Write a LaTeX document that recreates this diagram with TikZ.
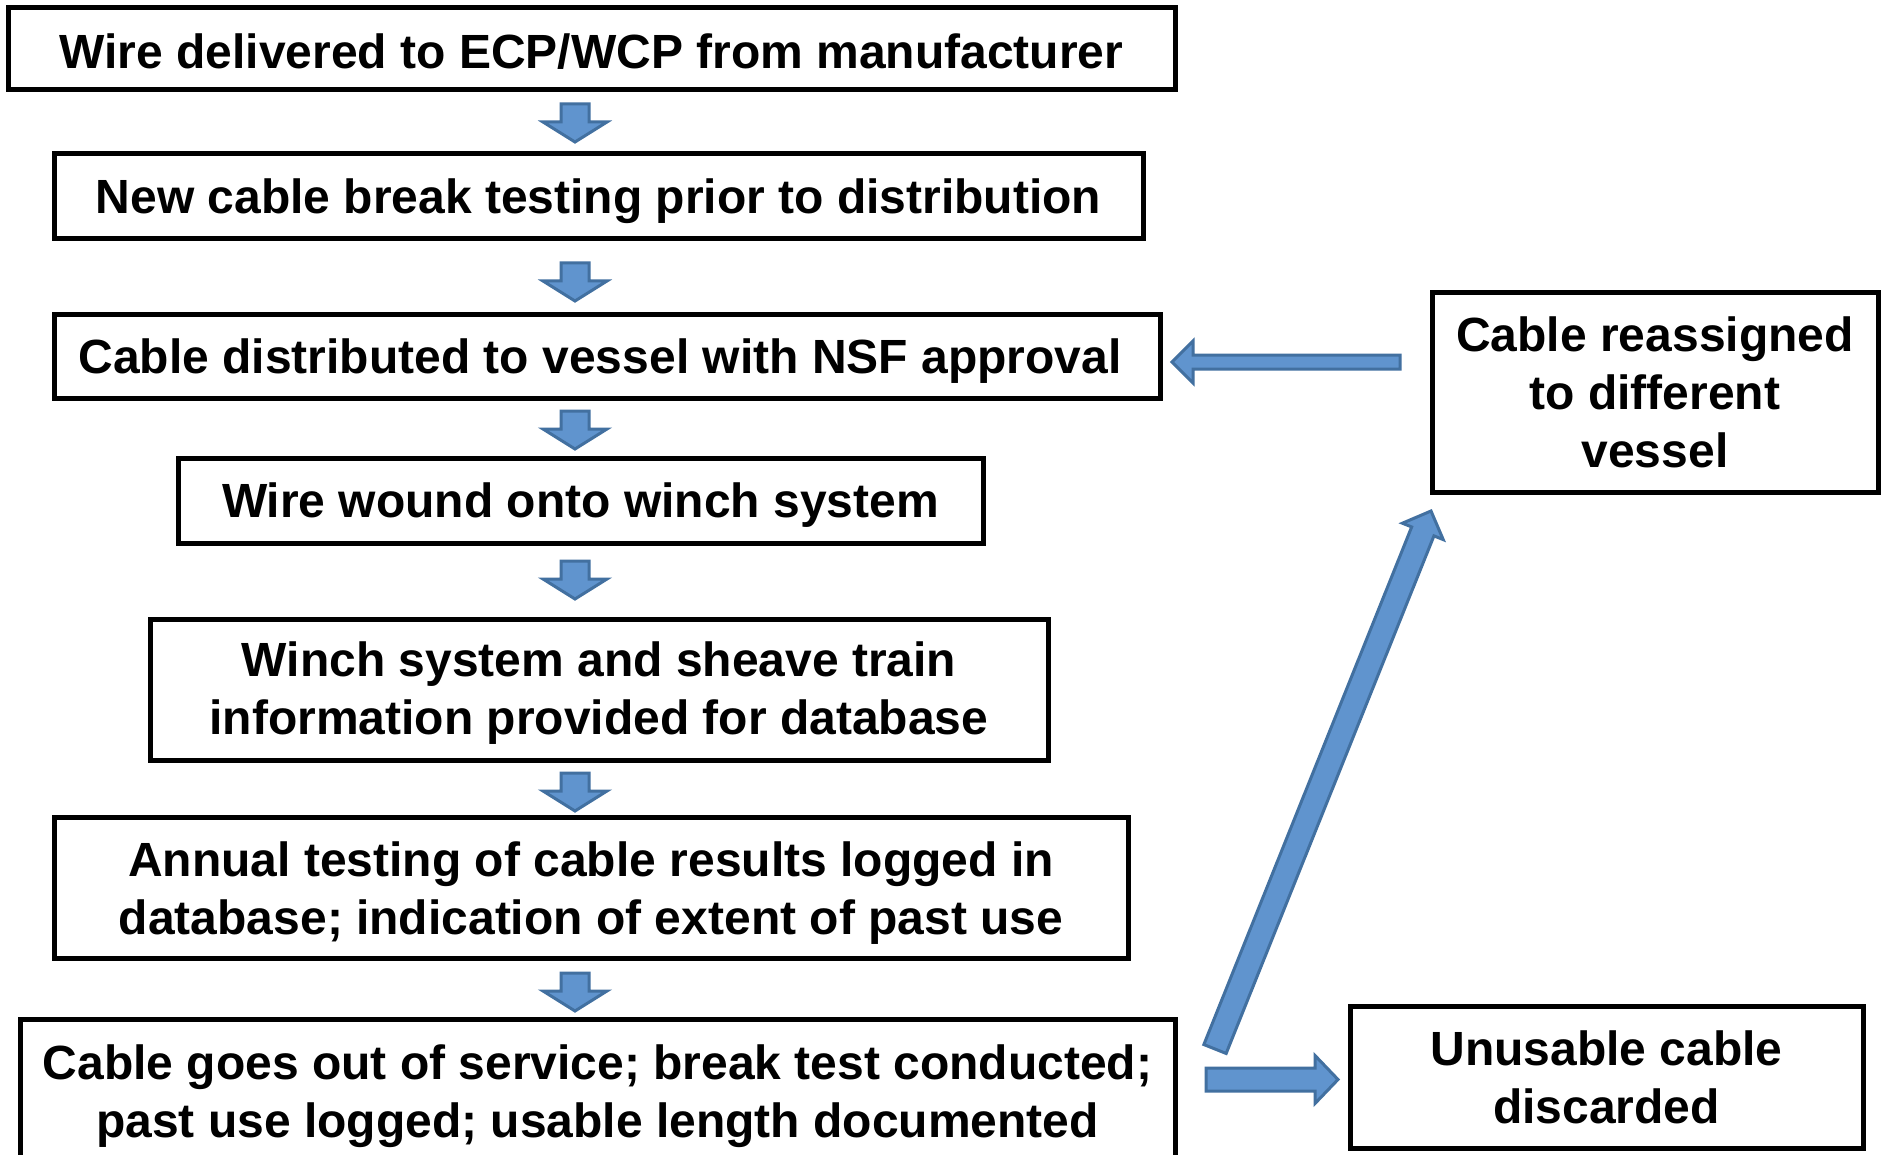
\documentclass[tikz,border=0pt]{standalone}
\usepackage{fontspec}
\setmainfont{Liberation Sans}
\usetikzlibrary{calc}
\definecolor{arrfill}{RGB}{96,148,206}
\definecolor{arrline}{RGB}{66,112,160}
\tikzset{
  box/.style={draw=black, line width=2.5pt, fill=white, inner sep=0pt},
  txt/.style={align=center, inner sep=0pt, font=\fontsize{24}{29}\selectfont\bfseries},
  arr/.style={fill=arrfill, draw=arrline, line width=1.5pt, line join=miter},
}
% #1 start, #2 tip, #3 shaft half width, #4 head half width, #5 head length, #6 name
\newcommand\blockarrow[6]{%
  \coordinate (#6-h) at ($(#2)!#5!(#1)$);
  \draw[arr] ($(#1)!#3!90:(#2)$) -- ($(#6-h)!#3!-90:(#1)$) -- ($(#6-h)!#4!-90:(#1)$)
    -- (#2) -- ($(#6-h)!#4!90:(#1)$) -- ($(#6-h)!#3!90:(#1)$) -- ($(#1)!#3!-90:(#2)$) -- cycle;
}
\begin{document}
\begin{tikzpicture}[x=0.5pt,y=-0.5pt]
\useasboundingbox (0,0) rectangle (1885,1155);
\clip (0,0) rectangle (1885,1155);
\fill[white] (0,0) rectangle (1885,1155);

\node[box, minimum width=583.5pt, minimum height=41pt] (b1) at (591.5,49) {};
\node[box, minimum width=544.5pt, minimum height=42.5pt] (b2) at (598.5,196.5) {};
\node[box, minimum width=553pt, minimum height=41.5pt] (b3) at (607,356.5) {};
\node[box, minimum width=402.5pt, minimum height=42.5pt] (b4) at (580.5,500.5) {};
\node[box, minimum width=449pt, minimum height=70.5pt] (b5) at (599,689.5) {};
\node[box, minimum width=537pt, minimum height=70.5pt] (b6) at (591,887.5) {};
\node[box, minimum width=577.5pt, minimum height=71pt] (b7) at (597.5,1090) {};
\node[box, minimum width=223pt, minimum height=99.5pt] (r1) at (1655,392.5) {};
\node[box, minimum width=256.5pt, minimum height=71pt] (r2) at (1606.5,1077) {};

\node[txt] (b1t) at ([yshift=-1.5pt]b1.center) {Wire delivered to ECP/WCP from manufacturer};
\node[txt] (b2t) at ([yshift=-2.5pt]b2.center) {New cable break testing prior to distribution};
\node[txt] (b3t) at ([xshift=-3.5pt,yshift=-2.5pt]b3.center) {Cable distributed to vessel with NSF approval};
\node[txt] (b4t) at ([yshift=-2.5pt]b4.center) {Wire wound onto winch system};
\node[txt] (b5t) at ([yshift=-2pt]b5.center) {Winch system and sheave train\\information provided for database};
\node[txt] (b6t) at ([yshift=-3pt]b6.center) {Annual testing of cable results logged in\\database; indication of extent of past use};
\node[txt] (b7t) at ([yshift=-3pt]b7.center) {Cable goes out of service; break test conducted;\\past use logged; usable length documented};
\node[txt] (r1t) at (r1.center) {Cable reassigned\\to different\\vessel};
\node[txt] (r2t) at (r2.center) {Unusable cable\\discarded};

% down arrows
\coordinate (d1s) at (575,104);  \coordinate (d1e) at (575,142);
\coordinate (d2s) at (575,263);  \coordinate (d2e) at (575,301);
\coordinate (d3s) at (575,411);  \coordinate (d3e) at (575,449);
\coordinate (d4s) at (575,561);  \coordinate (d4e) at (575,599);
\coordinate (d5s) at (575,773);  \coordinate (d5e) at (575,811);
\coordinate (d6s) at (575,973);  \coordinate (d6e) at (575,1011);
\blockarrow{d1s}{d1e}{7pt}{16pt}{10pt}{a1}
\blockarrow{d2s}{d2e}{7pt}{16pt}{10pt}{a2}
\blockarrow{d3s}{d3e}{7pt}{16pt}{10pt}{a3}
\blockarrow{d4s}{d4e}{7pt}{16pt}{10pt}{a4}
\blockarrow{d5s}{d5e}{7pt}{16pt}{10pt}{a5}
\blockarrow{d6s}{d6e}{7pt}{16pt}{10pt}{a6}

% reassign arrow back to b3
\coordinate (ls) at (1400,362); \coordinate (le) at (1172,362);
\blockarrow{ls}{le}{3.5pt}{10.5pt}{10.5pt}{al}
% diagonal up to r1
\coordinate (gs) at (1215,1049); \coordinate (ge) at (1431,511);
\blockarrow{gs}{ge}{6pt}{11pt}{11pt}{ag}
% to discarded
\coordinate (hs) at (1206,1079.5); \coordinate (he) at (1338,1079.5);
\blockarrow{hs}{he}{5.75pt}{12pt}{11.5pt}{ah}
\end{tikzpicture}
\end{document}
